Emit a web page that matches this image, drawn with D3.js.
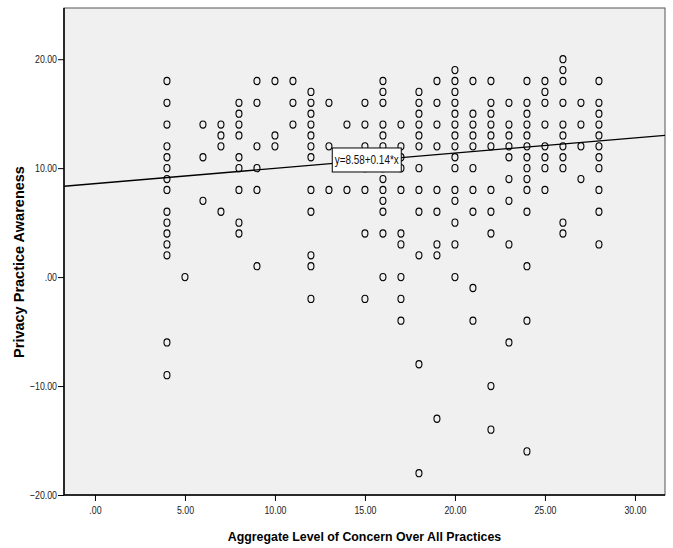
<!DOCTYPE html>
<html>
<head>
<meta charset="utf-8">
<script src="https://cdn.jsdelivr.net/npm/d3@7"></script>
<style>
  body { margin: 0; background: #fff; }
  text { font-family: "Liberation Sans", Arial, sans-serif; }
  .title { font-weight: bold; }
</style>
</head>
<body>
<script>
// concern level (x) and the awareness values (y) seen at each level
var concern = [4, 5, 6, 7, 8, 9, 10, 11, 12, 13, 14, 15, 16, 17, 18, 19, 20, 21, 22, 23, 24, 25, 26, 27, 28];
var awareness = [
  [18, 16, 14, 12, 11, 10, 9, 8, 6, 5, 4, 3, 2, -6, -9],
  [0],
  [14, 11, 7],
  [14, 13, 12, 6],
  [16, 15, 14, 13, 11, 10, 8, 5, 4],
  [18, 16, 12, 10, 8, 1],
  [18, 13, 12],
  [18, 16, 14],
  [17, 16, 15, 14, 13, 12, 11, 8, 6, 2, 1, -2],
  [16, 12, 8],
  [14, 8],
  [16, 14, 12, 11, 10, 8, 4, -2],
  [18, 17, 16, 14, 13, 12, 11, 10, 9, 8, 7, 6, 4, 0],
  [14, 12, 11, 10, 8, 4, 3, 0, -2, -4],
  [17, 16, 15, 14, 13, 12, 10, 8, 6, 2, -8, -18],
  [18, 16, 14, 12, 8, 6, 3, 2, -13],
  [19, 18, 17, 16, 15, 14, 13, 12, 11, 10, 8, 7, 5, 3, 0],
  [18, 15, 14, 13, 12, 10, 8, 6, -1, -4],
  [18, 16, 15, 14, 13, 12, 8, 6, 4, -10, -14],
  [16, 14, 13, 12, 11, 9, 7, 3, -6],
  [18, 16, 15, 14, 13, 12, 11, 10, 9, 8, 6, 1, -4, -16],
  [18, 17, 16, 14, 12, 11, 10, 8],
  [20, 19, 18, 16, 14, 13, 12, 11, 10, 5, 4],
  [16, 14, 12, 9],
  [18, 16, 15, 14, 13, 12, 11, 10, 8, 6, 3]
];
var xTicks = [0, 5, 10, 15, 20, 25, 30];
var yTicks = [-20, -10, 0, 10, 20];
var fitIntercept = 8.58, fitSlope = 0.14;
var fitLabel = "y=8.58+0.14*x";

var W = 673, H = 548;
var pl = 64, pr = 665, pt = 8, pb = 495;

var points = [];
concern.forEach(function(c, i) {
  awareness[i].forEach(function(a) { points.push({x: c, y: a}); });
});

var x = d3.scaleLinear().domain([-1.72, 31.67]).range([pl, pr]);
var y = d3.scaleLinear().domain([-20, 24.7]).range([pb, pt]);

var fmt = function(d) { return d === 0 ? ".00" : d3.format(".2f")(d); };

// squeeze a text to look like a narrow face
function narrow(sel, k) {
  sel.each(function() {
    var len = this.getComputedTextLength();
    d3.select(this).attr("textLength", len * k).attr("lengthAdjust", "spacingAndGlyphs");
  });
}

var svg = d3.select("body").append("svg").attr("width", W).attr("height", H);

// plot background
svg.append("rect")
  .attr("x", pl).attr("y", pt)
  .attr("width", pr - pl).attr("height", pb - pt)
  .attr("fill", "#f0f0f0")
  .attr("stroke", "#555").attr("stroke-width", 1);

svg.append("clipPath").attr("id", "clip")
  .append("rect").attr("x", pl).attr("y", pt).attr("width", pr - pl).attr("height", pb - pt);

// axes
var xAxis = svg.append("g").attr("transform", "translate(0," + pb + ")")
  .call(d3.axisBottom(x).tickValues(xTicks).tickFormat(fmt).tickSizeOuter(0).tickSize(6).tickPadding(5));
var yAxis = svg.append("g").attr("transform", "translate(" + pl + ",0)")
  .call(d3.axisLeft(y).tickValues(yTicks).tickFormat(fmt).tickSizeOuter(0).tickSize(6).tickPadding(1));
[xAxis, yAxis].forEach(function(g) {
  g.select(".domain").attr("stroke", "#000").attr("stroke-width", 1.5);
  g.selectAll(".tick line").attr("stroke", "#000");
  g.selectAll(".tick text").attr("fill", "#222")
    .style("font-size", "11px").style("font-family", "'Liberation Sans', Arial, sans-serif")
    .call(narrow, 0.8);
});
xAxis.select(".domain").attr("d", "M" + pl + ",0H" + pr);
yAxis.select(".domain").attr("d", "M0," + pt + "V" + pb);

// points
svg.append("g").attr("clip-path", "url(#clip)")
  .selectAll("ellipse").data(points).join("ellipse")
  .attr("cx", function(d) { return x(d.x); })
  .attr("cy", function(d) { return y(d.y); })
  .attr("rx", 3).attr("ry", 3.6)
  .attr("fill", "none").attr("stroke", "#000").attr("stroke-width", 1.1);

// fit line
var xd = x.domain();
svg.append("path").attr("clip-path", "url(#clip)")
  .attr("d", d3.line().x(function(d) { return x(d); }).y(function(d) { return y(fitIntercept + fitSlope * d); })(xd))
  .attr("stroke", "#000").attr("stroke-width", 1.3).attr("fill", "none");

// fit label
var lx = x(15.1), ly = y(10.75);
svg.append("rect").attr("x", lx - 34.5).attr("y", ly - 12).attr("width", 69).attr("height", 24)
  .attr("fill", "#fff").attr("stroke", "#000").attr("stroke-width", 1);
svg.append("text").attr("x", lx).attr("y", ly + 4.5).attr("text-anchor", "middle")
  .style("font-size", "13px").attr("fill", "#111")
  .attr("textLength", 64).attr("lengthAdjust", "spacingAndGlyphs").text(fitLabel);

// titles
svg.append("text").attr("class", "title").attr("x", (pl + pr) / 2).attr("y", 541).attr("text-anchor", "middle")
  .style("font-size", "13px").text("Aggregate Level of Concern Over All Practices")
  .call(narrow, 0.95);
svg.append("text").attr("class", "title").attr("transform", "translate(24,262) rotate(-90)")
  .attr("text-anchor", "middle").style("font-size", "14.5px").text("Privacy Practice Awareness");
</script>
</body>
</html>
